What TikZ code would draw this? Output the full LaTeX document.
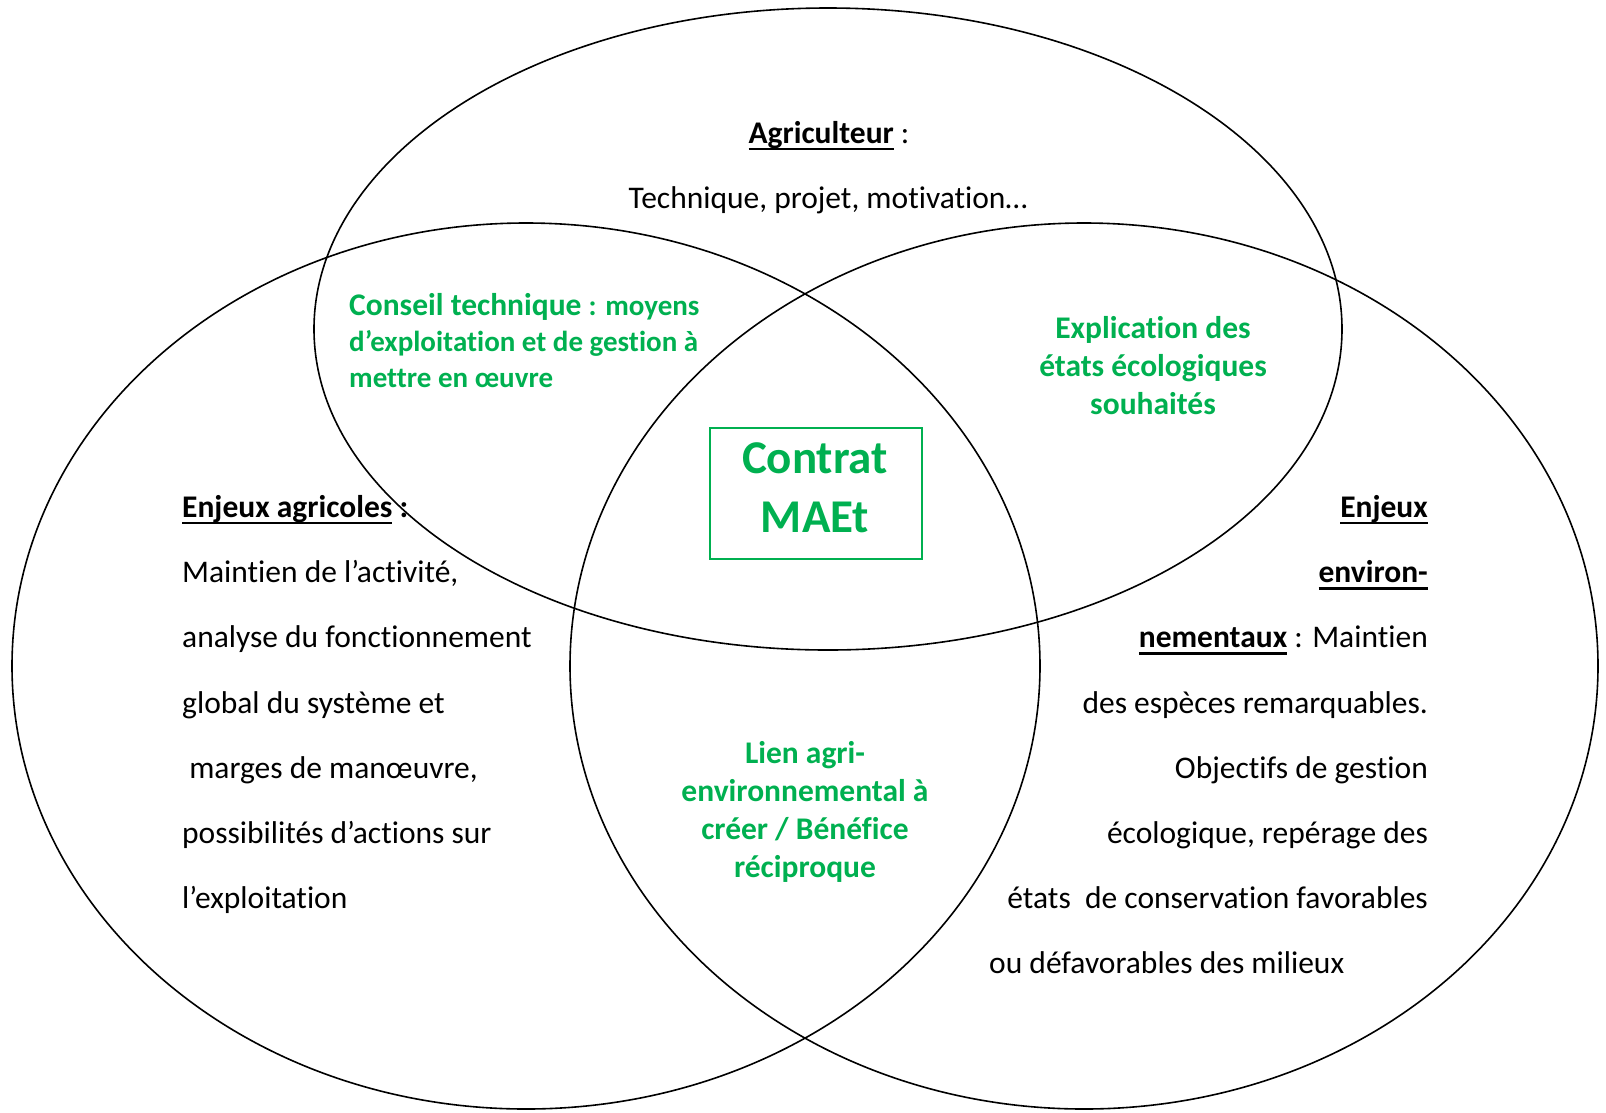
\documentclass[tikz,border=0pt]{standalone}
\usepackage{fontspec}
\setmainfont{Carlito}[RawFeature={-liga;-clig;-calt;-dlig}]
\definecolor{vert}{HTML}{00B050}
\newlength{\ulwd}
\newcommand{\ulin}[1]{\settowidth{\ulwd}{#1}\rlap{\rule[-7pt]{\ulwd}{2.6pt}}#1}
\tikzset{
  cercle/.style={draw=black, line width=1.6pt},
  texte/.style={inner sep=0pt, font=\fontsize{31.5}{38}\selectfont},
  vertgras/.style={inner sep=0pt, text=vert, font=\fontsize{31.5}{38}\selectfont\bfseries},
}
\begin{document}
\begin{tikzpicture}[x=1pt,y=-1pt]
\useasboundingbox (0,0) rectangle (1606,1112);
% les trois ensembles
\draw[cercle] (828,329) ellipse [x radius=514, y radius=321];
\draw[cercle] (526,666) ellipse [x radius=514, y radius=443];
\draw[cercle] (1084,666) ellipse [x radius=514, y radius=443];
% agriculteur
\node[texte, anchor=mid] (agri) at (829,141) {\textbf{\ulin{Agriculteur}}\ :};
\node[texte, anchor=mid] (agri-txt) at (828,206) {Technique, projet, motivation…};
% enjeux agricoles
\node[texte, anchor=mid west] (agr-0) at (182,515) {\textbf{\ulin{Enjeux agricoles} :}};
\foreach \txt [count=\i] in {{Maintien de l’activité,}, {analyse du fonctionnement}, {global du système et}, {\ marges de manœuvre,}, {possibilités d’actions sur}, {l’exploitation}}
  \node[texte, anchor=mid west] (agr-\i) at (182,515+65.2*\i) {\txt};
% enjeux environnementaux
\node[texte, anchor=mid east] (env-0) at (1428,515) {\textbf{\ulin{Enjeux}}};
\node[texte, anchor=mid east] (env-1) at (1428,580.2) {\textbf{\ulin{environ-}}};
\foreach \txt [count=\i from 2] in {{\textbf{\ulin{nementaux}} : Maintien}, {des espèces remarquables.}, {Objectifs de gestion}, {écologique, repérage des}, {états\ \ de conservation favorables}}
  \node[texte, anchor=mid east] (env-\i) at (1428,515+65.2*\i) {\txt};
\node[texte, anchor=mid west] (env-7) at (989,971.4) {ou défavorables des milieux};
% intersections
\node[vertgras, anchor=mid west] (cons-0) at (349,313) {Conseil technique {\fontsize{29}{36}\selectfont : moyens}};
\node[vertgras, anchor=mid west, font=\fontsize{29}{36}\selectfont\bfseries] (cons-1) at (349,349) {d’exploitation et de gestion à};
\node[vertgras, anchor=mid west, font=\fontsize{29}{36}\selectfont\bfseries] (cons-2) at (349,385) {mettre en œuvre};
\foreach \txt [count=\i from 0] in {{Explication des}, {états écologiques}, {souhaités}}
  \node[vertgras, anchor=mid] (expl-\i) at (1153,336+38*\i) {\txt};
\foreach \txt [count=\i from 0] in {{Lien agri-}, {environnemental à}, {créer / Bénéfice}, {réciproque}}
  \node[vertgras, anchor=mid] (lien-\i) at (805,761+38*\i) {\txt};
% contrat
\node[draw=vert, line width=1.6pt, minimum width=212, minimum height=131, inner sep=0pt] (contrat) at (816,493.5) {};
\node[vertgras, anchor=mid, font=\fontsize{47}{57}\selectfont\bfseries] (contrat-1) at (815,471) {Contrat};
\node[vertgras, anchor=mid, font=\fontsize{47}{57}\selectfont\bfseries] (contrat-2) at (815,530) {MAEt};
\end{tikzpicture}
\end{document}
